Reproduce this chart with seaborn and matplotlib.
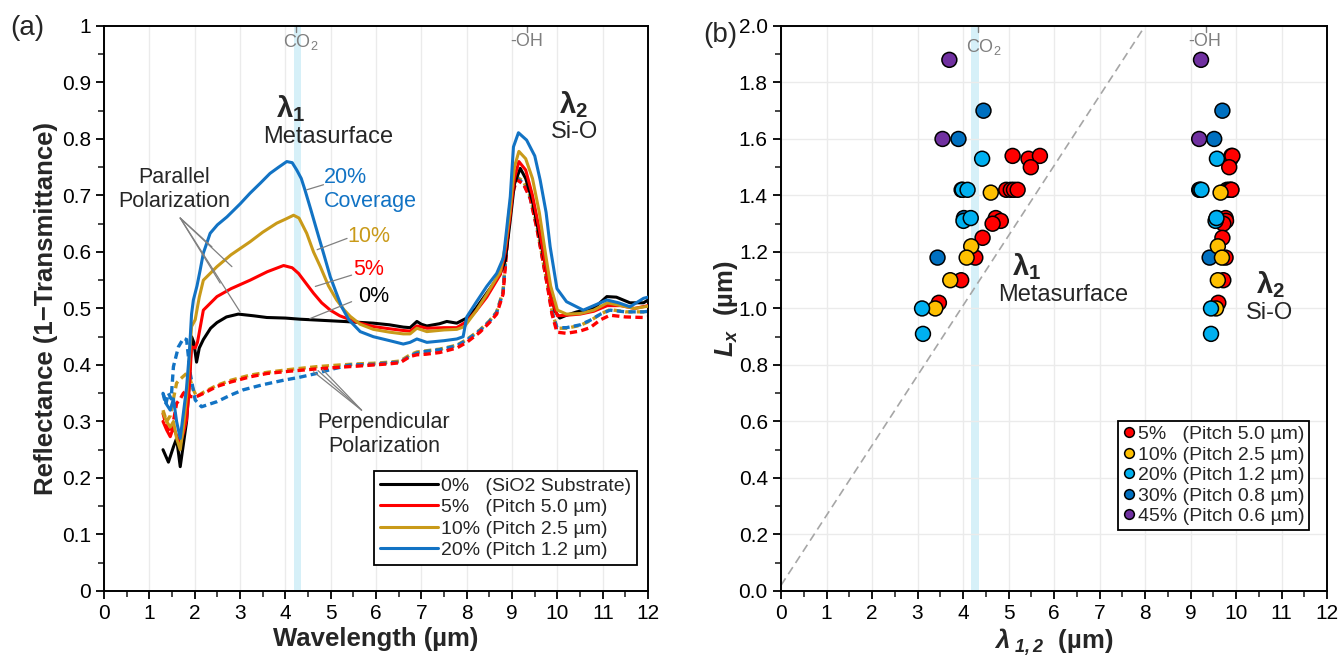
import numpy as np
import pandas as pd
import seaborn as sns
import matplotlib.pyplot as plt
from matplotlib.ticker import MultipleLocator, FuncFormatter

# ---- panel (a): reflectance spectra, parallel (solid) and perpendicular (dashed) ----
wl_par_0 = [1.30, 1.42, 1.53, 1.60, 1.68, 1.75, 1.82, 1.88, 1.93, 1.98, 2.04, 2.10, 2.19, 2.35, 2.49, 2.70,
            2.96, 3.30, 3.59, 4.00, 4.32, 4.80, 5.28, 5.94, 6.30, 6.60, 6.75, 6.90, 7.00, 7.12, 7.40, 7.56,
            7.78, 8.00, 8.20, 8.44, 8.60, 8.74, 8.85, 8.95, 9.05, 9.18, 9.30, 9.45, 9.60, 9.75, 9.85, 9.95,
            10.05, 10.20, 10.43, 10.80, 11.09, 11.30, 11.60, 11.90, 12.00]
r_par_0 = [0.25, 0.228, 0.255, 0.27, 0.22, 0.26, 0.30, 0.37, 0.45, 0.44, 0.405, 0.43, 0.445, 0.465, 0.475, 0.485,
           0.49, 0.487, 0.484, 0.483, 0.481, 0.479, 0.477, 0.474, 0.471, 0.467, 0.466, 0.477, 0.472, 0.469, 0.473, 0.477,
           0.474, 0.483, 0.50, 0.527, 0.545, 0.562, 0.585, 0.65, 0.72, 0.748, 0.73, 0.69, 0.63, 0.57, 0.525, 0.495,
           0.483, 0.488, 0.494, 0.50, 0.521, 0.52, 0.51, 0.51, 0.515]

wl_par_5 = [1.30, 1.38, 1.46, 1.53, 1.60, 1.68, 1.75, 1.82, 1.88, 1.93, 2.01, 2.06, 2.19, 2.49, 2.80, 3.22,
            3.60, 3.96, 4.15, 4.29, 4.45, 4.62, 4.80, 4.99, 5.20, 5.43, 5.65, 5.94, 6.30, 6.60, 6.75, 6.90,
            7.12, 7.50, 7.78, 8.00, 8.20, 8.44, 8.74, 8.85, 8.95, 9.05, 9.15, 9.30, 9.45, 9.60, 9.75, 9.85,
            10.00, 10.20, 10.50, 10.80, 11.10, 11.40, 11.70, 12.00]
r_par_5 = [0.30, 0.285, 0.273, 0.29, 0.275, 0.261, 0.28, 0.303, 0.36, 0.432, 0.43, 0.44, 0.497, 0.521, 0.535, 0.55,
           0.565, 0.576, 0.572, 0.562, 0.545, 0.527, 0.51, 0.497, 0.487, 0.48, 0.474, 0.468, 0.464, 0.461, 0.46, 0.469,
           0.465, 0.466, 0.466, 0.477, 0.495, 0.52, 0.56, 0.60, 0.66, 0.73, 0.76, 0.745, 0.70, 0.64, 0.57, 0.52,
           0.487, 0.488, 0.49, 0.495, 0.505, 0.505, 0.50, 0.505]

wl_par_10 = [1.30, 1.38, 1.46, 1.53, 1.60, 1.68, 1.75, 1.82, 1.88, 1.93, 2.01, 2.10, 2.19, 2.49, 2.80, 3.22,
             3.50, 3.81, 4.00, 4.18, 4.30, 4.47, 4.62, 4.77, 4.95, 5.13, 5.30, 5.43, 5.65, 5.94, 6.30, 6.60,
             6.75, 6.90, 7.12, 7.50, 7.78, 7.95, 8.20, 8.44, 8.74, 8.85, 8.95, 9.05, 9.15, 9.30, 9.45, 9.60,
             9.75, 9.85, 10.00, 10.20, 10.50, 10.80, 11.10, 11.40, 11.70, 12.00]
r_par_10 = [0.315, 0.30, 0.29, 0.30, 0.27, 0.25, 0.29, 0.344, 0.41, 0.468, 0.48, 0.52, 0.55, 0.574, 0.595, 0.618,
            0.635, 0.651, 0.658, 0.665, 0.66, 0.633, 0.60, 0.574, 0.54, 0.515, 0.497, 0.486, 0.472, 0.463, 0.458, 0.455,
            0.455, 0.465, 0.459, 0.462, 0.463, 0.468, 0.495, 0.525, 0.565, 0.61, 0.67, 0.75, 0.778, 0.765, 0.73, 0.67,
            0.59, 0.54, 0.497, 0.49, 0.491, 0.497, 0.51, 0.505, 0.50, 0.504]

wl_par_20 = [1.30, 1.38, 1.46, 1.53, 1.60, 1.68, 1.75, 1.82, 1.88, 1.93, 1.97, 2.05, 2.12, 2.19, 2.34, 2.50,
             2.71, 3.00, 3.22, 3.45, 3.66, 3.85, 4.03, 4.15, 4.25, 4.35, 4.43, 4.56, 4.69, 4.85, 4.99, 5.12,
             5.24, 5.40, 5.65, 5.94, 6.30, 6.60, 6.75, 6.90, 7.12, 7.50, 7.78, 7.92, 8.00, 8.20, 8.44, 8.66,
             8.81, 8.96, 9.03, 9.14, 9.32, 9.50, 9.62, 9.75, 9.84, 9.99, 10.20, 10.57, 10.80, 11.09, 11.35, 11.60,
             11.90, 12.00]
r_par_20 = [0.35, 0.33, 0.32, 0.34, 0.30, 0.27, 0.315, 0.36, 0.42, 0.49, 0.515, 0.54, 0.568, 0.598, 0.633, 0.648,
            0.662, 0.685, 0.704, 0.722, 0.739, 0.75, 0.76, 0.758, 0.745, 0.73, 0.71, 0.675, 0.639, 0.595, 0.556, 0.528,
            0.503, 0.48, 0.459, 0.45, 0.443, 0.437, 0.44, 0.446, 0.44, 0.443, 0.446, 0.45, 0.485, 0.51, 0.539, 0.562,
            0.59, 0.698, 0.786, 0.811, 0.798, 0.77, 0.727, 0.67, 0.609, 0.535, 0.512, 0.497, 0.505, 0.515, 0.51, 0.503,
            0.518, 0.52]

wl_perp_5 = [1.30, 1.38, 1.46, 1.53, 1.60, 1.68, 1.75, 1.82, 1.90, 2.04, 2.20, 2.49, 2.80, 3.22, 3.60, 4.10,
             4.69, 5.20, 5.60, 5.94, 6.30, 6.53, 6.75, 6.90, 7.10, 7.40, 7.78, 8.00, 8.29, 8.50, 8.66, 8.80,
             8.92, 9.00, 9.10, 9.25, 9.40, 9.55, 9.69, 9.80, 9.88, 9.99, 10.20, 10.50, 10.72, 10.95, 11.16, 11.50,
             11.90, 12.00]
r_perp_5 = [0.315, 0.29, 0.28, 0.30, 0.332, 0.34, 0.35, 0.355, 0.344, 0.344, 0.35, 0.362, 0.37, 0.379, 0.385, 0.389,
            0.393, 0.396, 0.398, 0.40, 0.402, 0.404, 0.415, 0.418, 0.419, 0.422, 0.43, 0.44, 0.458, 0.475, 0.49, 0.525,
            0.64, 0.70, 0.728, 0.72, 0.695, 0.64, 0.58, 0.53, 0.49, 0.458, 0.456, 0.46, 0.466, 0.48, 0.488, 0.485,
            0.484, 0.485]

wl_perp_10 = [1.30, 1.38, 1.46, 1.53, 1.60, 1.68, 1.75, 1.82, 1.88, 1.95, 2.04, 2.20, 2.49, 2.80, 3.22, 3.60,
              4.10, 4.69, 5.20, 5.60, 5.94, 6.30, 6.53, 6.75, 6.90, 7.10, 7.40, 7.78, 8.00, 8.29, 8.50, 8.66,
              8.80, 8.92, 9.00, 9.10, 9.25, 9.40, 9.55, 9.69, 9.80, 9.88, 9.99, 10.20, 10.50, 10.72, 10.95, 11.16,
              11.50, 11.90, 12.00]
r_perp_10 = [0.32, 0.30, 0.31, 0.34, 0.368, 0.375, 0.38, 0.385, 0.38, 0.36, 0.344, 0.352, 0.364, 0.373, 0.382, 0.387,
             0.392, 0.397, 0.40, 0.402, 0.403, 0.405, 0.407, 0.418, 0.423, 0.425, 0.428, 0.435, 0.445, 0.462, 0.478, 0.494,
             0.53, 0.66, 0.715, 0.733, 0.725, 0.698, 0.645, 0.58, 0.535, 0.495, 0.465, 0.465, 0.47, 0.478, 0.49, 0.498,
             0.494, 0.494, 0.495]

wl_perp_20 = [1.30, 1.36, 1.42, 1.48, 1.53, 1.64, 1.75, 1.82, 1.90, 2.01, 2.15, 2.30, 2.49, 2.80, 3.07, 3.50,
              3.96, 4.30, 4.69, 5.00, 5.43, 5.94, 6.30, 6.53, 6.75, 6.90, 7.10, 7.40, 7.78, 8.00, 8.29, 8.50,
              8.66, 8.80, 8.92, 9.00, 9.10, 9.25, 9.40, 9.55, 9.69, 9.80, 9.88, 9.99, 10.20, 10.50, 10.72, 10.95,
              11.16, 11.50, 11.90, 12.00]
r_perp_20 = [0.35, 0.33, 0.35, 0.34, 0.397, 0.432, 0.447, 0.445, 0.385, 0.338, 0.326, 0.33, 0.335, 0.347, 0.356, 0.365,
             0.373, 0.378, 0.385, 0.392, 0.40, 0.401, 0.404, 0.405, 0.416, 0.421, 0.424, 0.427, 0.434, 0.444, 0.461, 0.477,
             0.493, 0.528, 0.655, 0.712, 0.73, 0.722, 0.695, 0.643, 0.58, 0.533, 0.494, 0.466, 0.466, 0.471, 0.479, 0.49,
             0.497, 0.494, 0.494, 0.495]

legend_a = ["0%   (SiO2 Substrate)", "5%   (Pitch 5.0 µm)", "10% (Pitch 2.5 µm)", "20% (Pitch 1.2 µm)"]
colors_a = ["#000000", "#FF0000", "#C99A19", "#1273C4"]

# ---- panel (b): resonance wavelength vs. Lx ----
lx_5 = [1.54, 1.53, 1.54, 1.50, 1.42, 1.42, 1.42, 1.42, 1.32, 1.31, 1.30, 1.25, 1.18, 1.10, 1.02]
lam1_5 = [5.09, 5.44, 5.69, 5.49, 4.95, 5.05, 5.12, 5.20, 4.72, 4.83, 4.65, 4.43, 4.27, 3.96, 3.47]
lam2_5 = [9.90, 9.88, 9.92, 9.85, 9.80, 9.85, 9.89, 9.90, 9.77, 9.78, 9.72, 9.70, 9.77, 9.72, 9.61]

lx_10 = [1.41, 1.22, 1.18, 1.10, 1.00]
lam1_10 = [4.61, 4.18, 4.08, 3.72, 3.39]
lam2_10 = [9.66, 9.60, 9.69, 9.60, 9.56]

lx_20 = [1.53, 1.42, 1.42, 1.31, 1.32, 1.00, 0.91]
lam1_20 = [4.42, 3.99, 4.10, 4.01, 4.17, 3.10, 3.12]
lam2_20 = [9.58, 9.21, 9.24, 9.55, 9.57, 9.45, 9.45]

lx_30 = [1.70, 1.60, 1.42, 1.32, 1.18]
lam1_30 = [4.45, 3.90, 3.97, 4.02, 3.44]
lam2_30 = [9.70, 9.52, 9.19, 9.58, 9.42]

lx_45 = [1.88, 1.60]
lam1_45 = [3.70, 3.55]
lam2_45 = [9.23, 9.19]

legend_b = ["5%   (Pitch 5.0 µm)", "10% (Pitch 2.5 µm)", "20% (Pitch 1.2 µm)",
            "30% (Pitch 0.8 µm)", "45% (Pitch 0.6 µm)"]
colors_b = ["#FF0000", "#FFC000", "#00B0F0", "#0070C0", "#7030A0"]

diag_lam = [0.0, 8.0]
diag_lx = [0.02, 2.0]

sns.set_style("ticks")
plt.rcParams['font.family'] = ['Liberation Sans', 'DejaVu Sans']
plt.rcParams['mathtext.fontset'] = 'custom'
plt.rcParams['mathtext.rm'] = 'Liberation Sans'
plt.rcParams['mathtext.it'] = 'Liberation Sans:italic'
plt.rcParams['mathtext.bf'] = 'Liberation Sans:bold'
plt.rcParams['mathtext.bfit'] = 'Liberation Sans:italic:bold'

fig = plt.figure(figsize=(13.41, 6.62), dpi=100)
ax1 = fig.add_axes([0.0776, 0.1073, 0.4057, 0.8535])
ax2 = fig.add_axes([0.5824, 0.1073, 0.4072, 0.8535])

band_col = "#D6F0F8"
grid_col = "#EBEBEB"
note_col = "#7F7F7F"

# ---------------- panel (a) ----------------
ax1.axvspan(4.18, 4.35, color=band_col, lw=0, zorder=0)
ax1.xaxis.grid(True, color=grid_col, lw=1, zorder=0)

perp = [(wl_perp_10, r_perp_10, colors_a[2]), (wl_perp_20, r_perp_20, colors_a[3]),
        (wl_perp_5, r_perp_5, colors_a[1])]
for wl, r, c in perp:
    sns.lineplot(x=wl, y=r, color=c, lw=2.4, ax=ax1, estimator=None, sort=False,
                 dashes=False, linestyle=(0, (2.2, 1.3)), zorder=2)

par = [(wl_par_0, r_par_0), (wl_par_5, r_par_5), (wl_par_10, r_par_10), (wl_par_20, r_par_20)]
for (wl, r), c, lab in zip(par, colors_a, legend_a):
    sns.lineplot(x=wl, y=r, color=c, lw=2.2, ax=ax1, estimator=None, sort=False,
                 label=lab, zorder=3)

ax1.set_xlim(0, 12)
ax1.set_ylim(0, 1)
ax1.xaxis.set_major_locator(MultipleLocator(1))
ax1.xaxis.set_minor_locator(MultipleLocator(0.5))
ax1.yaxis.set_major_locator(MultipleLocator(0.1))
ax1.yaxis.set_minor_locator(MultipleLocator(0.05))
ax1.yaxis.set_major_formatter(FuncFormatter(lambda v, p: f"{v:g}"))
ax1.set_xlabel("Wavelength (µm)", fontsize=18.5, fontweight='bold')
ax1.set_ylabel("Reflectance (1−Transmittance)", fontsize=18.5, fontweight='bold')
ax1.xaxis.set_label_coords(0.5, -0.063)
ax1.yaxis.set_label_coords(-0.085, 0.5)

h, l = ax1.get_legend_handles_labels()
leg = ax1.legend(h, l, loc='lower right', bbox_to_anchor=(0.98, 0.046), fontsize=14,
                 frameon=True, fancybox=False, edgecolor='black', framealpha=1,
                 handlelength=3.0, handletextpad=0.15, labelspacing=0.2, borderpad=0.3,
                 borderaxespad=0)
leg.get_frame().set_linewidth(1.3)

ax1.text(4.11, 0.854, "λ$_\\mathbf{1}$", fontsize=21, fontweight='bold', ha='center', va='center')
ax1.text(4.94, 0.804, "Metasurface", fontsize=17, ha='center', va='center')
ax1.text(10.35, 0.86, "λ$_\\mathbf{2}$", fontsize=21, fontweight='bold', ha='center', va='center')
ax1.text(10.37, 0.813, "Si-O", fontsize=17, ha='center', va='center')
ax1.text(4.33, 0.972, "CO$_2$", fontsize=13, color=note_col, ha='center', va='center')
ax1.text(9.33, 0.972, "-OH", fontsize=13, color=note_col, ha='center', va='center')
ax1.plot([4.23, 4.23], [1.0, 0.99], color=note_col, lw=1)
ax1.plot([9.33, 9.33], [1.0, 0.99], color=note_col, lw=1)

ax1.text(1.54, 0.71, "Parallel\nPolarization", fontsize=15.5, ha='center', va='center')
for tx, ty in [(2.38, 0.609), (2.56, 0.545), (2.82, 0.574), (3.0, 0.494)]:
    ax1.annotate("", xy=(tx, ty), xytext=(1.68, 0.66),
                 arrowprops=dict(arrowstyle='-', color='gray', lw=0.9, shrinkA=0, shrinkB=0))

ax1.text(6.17, 0.277, "Perpendicular\nPolarization", fontsize=15.5, ha='center', va='center')
for tx, ty in [(4.62, 0.388), (4.72, 0.39), (4.82, 0.392)]:
    ax1.annotate("", xy=(tx, ty), xytext=(5.68, 0.32),
                 arrowprops=dict(arrowstyle='-', color='gray', lw=0.9, shrinkA=0, shrinkB=0))

ax1.text(4.84, 0.71, "20%\nCoverage", fontsize=15.5, color=colors_a[3], ha='left', va='center')
ax1.text(5.36, 0.628, "10%", fontsize=15.5, color=colors_a[2], ha='left', va='center')
ax1.text(5.49, 0.569, "5%", fontsize=15.5, color=colors_a[1], ha='left', va='center')
ax1.text(5.60, 0.521, "0%", fontsize=15.5, color=colors_a[0], ha='left', va='center')
for (x0, y0), (x1, y1) in [((4.47, 0.71), (4.84, 0.719)), ((4.70, 0.604), (5.36, 0.624)),
                           ((4.66, 0.539), (5.46, 0.559)), ((4.54, 0.482), (5.46, 0.512))]:
    ax1.annotate("", xy=(x1, y1), xytext=(x0, y0),
                 arrowprops=dict(arrowstyle='-', color='gray', lw=0.9, shrinkA=0, shrinkB=0))

# ---------------- panel (b) ----------------
ax2.axvspan(4.18, 4.35, color=band_col, lw=0, zorder=0)
ax2.grid(True, color=grid_col, lw=1, zorder=0)

groups = [(lx_30, lam1_30, lam2_30, legend_b[3]), (lx_45, lam1_45, lam2_45, legend_b[4]),
          (lx_5, lam1_5, lam2_5, legend_b[0]), (lx_10, lam1_10, lam2_10, legend_b[1]),
          (lx_20, lam1_20, lam2_20, legend_b[2])]
rows = []
for lx, l1, l2, lab in groups:
    for a, b, c in zip(lx, l1, l2):
        rows.append({"lam": b, "lx": a, "cov": lab})
        rows.append({"lam": c, "lx": a, "cov": lab})
df = pd.DataFrame(rows)

sns.lineplot(x=diag_lam, y=diag_lx, color="#A6A6A6", lw=1.2, ax=ax2, linestyle=(0, (5, 3)), zorder=1)
sns.scatterplot(data=df, x="lam", y="lx", hue="cov", hue_order=legend_b,
                palette=dict(zip(legend_b, colors_b)), s=115, edgecolor='black', linewidth=1.1,
                ax=ax2, zorder=3)

ax2.set_xlim(0, 12)
ax2.set_ylim(0, 2)
ax2.xaxis.set_major_locator(MultipleLocator(1))
ax2.xaxis.set_minor_locator(MultipleLocator(0.5))
ax2.yaxis.set_major_locator(MultipleLocator(0.2))
ax2.yaxis.set_minor_locator(MultipleLocator(0.1))
ax2.yaxis.set_major_formatter(FuncFormatter(lambda v, p: f"{v:.1f}"))
ax2.set_xlabel("$\\mathbfit{\\lambda}_{\\ \\mathbfit{1,2}}$  (µm)", fontsize=18.5, fontweight='bold')
ax2.set_ylabel("$\\mathbfit{L}_{\\mathbfit{x}}$  (µm)", fontsize=18.5, fontweight='bold')
ax2.xaxis.set_label_coords(0.5, -0.063)
ax2.yaxis.set_label_coords(-0.075, 0.5)

h, l = ax2.get_legend_handles_labels()
for hh in h:
    hh.set_markeredgecolor('black')
    hh.set_markersize(7)
leg2 = ax2.legend(h, l, loc='lower right', bbox_to_anchor=(0.967, 0.108), fontsize=14,
                  frameon=True, fancybox=False, edgecolor='black', framealpha=1,
                  handlelength=0.6, handletextpad=0.15, labelspacing=0.15, borderpad=0.25,
                  borderaxespad=0)
leg2.get_frame().set_linewidth(1.3)

ax2.text(5.39, 1.148, "λ$_\\mathbf{1}$", fontsize=21, fontweight='bold', ha='center', va='center')
ax2.text(6.2, 1.048, "Metasurface", fontsize=17, ha='center', va='center')
ax2.text(10.76, 1.083, "λ$_\\mathbf{2}$", fontsize=21, fontweight='bold', ha='center', va='center')
ax2.text(10.74, 0.983, "Si-O", fontsize=17, ha='center', va='center')
ax2.text(4.46, 1.925, "CO$_2$", fontsize=13, color=note_col, ha='center', va='center')
ax2.text(9.3, 1.945, "-OH", fontsize=13, color=note_col, ha='center', va='center')
ax2.plot([4.33, 4.33], [2.0, 1.98], color=note_col, lw=1)
ax2.plot([9.33, 9.33], [2.0, 1.98], color=note_col, lw=1)

for ax in (ax1, ax2):
    for s in ax.spines.values():
        s.set_visible(True)
        s.set_linewidth(1.4)
        s.set_color('black')
    ax.tick_params(which='major', direction='out', length=6, width=1.3, labelsize=15, colors='black')
    ax.tick_params(which='minor', direction='out', length=4, width=1.2)

fig.text(0.02, 0.958, "(a)", fontsize=20, ha='center', va='center')
fig.text(0.537, 0.947, "(b)", fontsize=20, ha='center', va='center')

fig.savefig("out.png", dpi=100)
